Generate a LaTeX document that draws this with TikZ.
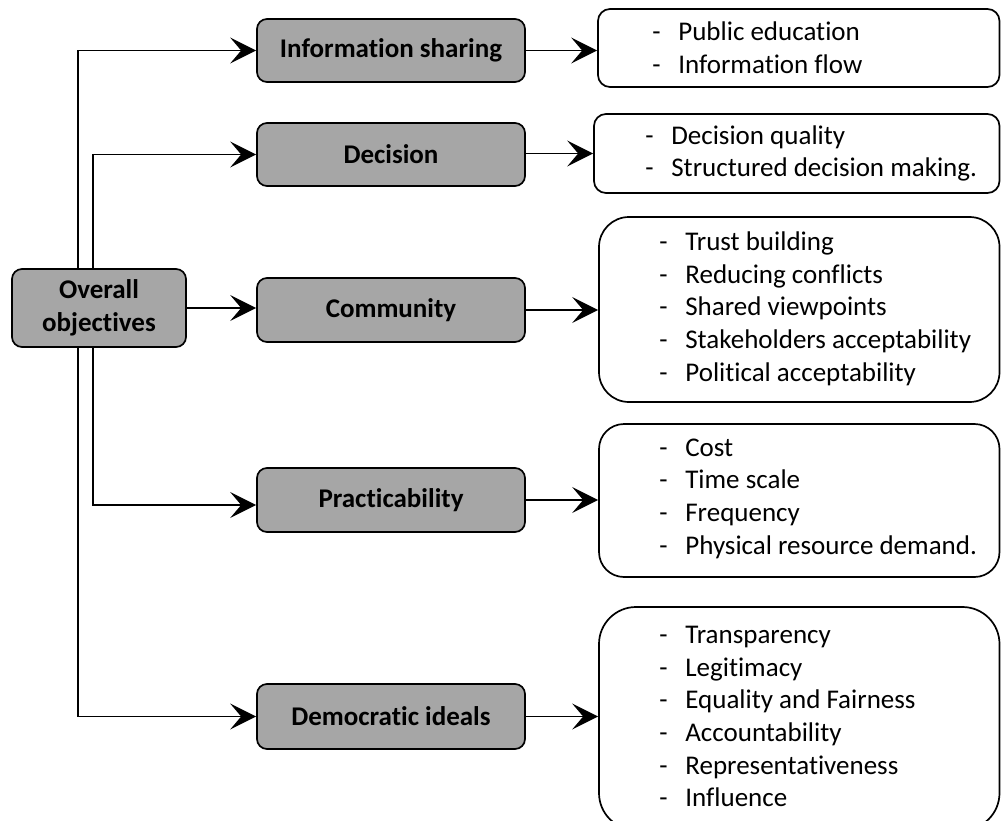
\documentclass[tikz,border=0pt]{standalone}
\usepackage{fontspec}
\setmainfont{Carlito}[Ligatures={NoCommon}]
\usetikzlibrary{arrows.meta}
\definecolor{boxgray}{RGB}{166,166,166}
\newcommand{\itm}[1]{\makebox[26pt][l]{-}#1}
\begin{document}
\begin{tikzpicture}[x=1pt,y=-1pt,
  graybox/.style={draw, line width=1.7pt, rounded corners=10pt, fill=boxgray, font=\fontsize{27}{32.5}\selectfont\bfseries, align=center, inner sep=0pt},
  listbox/.style={draw, line width=1.7pt, inner sep=0pt},
  listtext/.style={anchor=west, align=left, font=\fontsize{27}{32.7}\selectfont, inner sep=0pt},
  arr/.style={line width=1.8pt, -{Stealth[length=26pt,width=26pt,inset=11pt]}},
]
\useasboundingbox (0,0) rectangle (1001,820);

% left node
\node[graybox, minimum width=174pt, minimum height=78pt] (overall) at (99,308) {Overall\\objectives};

% middle gray nodes
\node[graybox, minimum width=268pt, minimum height=63pt] (info) at (391,50.5) {Information sharing};
\node[graybox, minimum width=268pt, minimum height=63pt] (decision) at (391,154.5) {Decision};
\node[graybox, minimum width=268pt, minimum height=64pt] (community) at (391,310) {Community};
\node[graybox, minimum width=268pt, minimum height=64pt] (practic) at (391,500) {Practicability};
\node[graybox, minimum width=268pt, minimum height=65pt] (democ) at (391,716.5) {Democratic ideals};

% right list boxes
\node[listbox, rounded corners=12pt, minimum width=401.5pt, minimum height=78pt] (infor) at (798.75,48) {};
\node[listbox, rounded corners=12pt, minimum width=405.5pt, minimum height=79pt] (decr) at (796.75,153.5) {};
\node[listbox, rounded corners=30pt, minimum width=400.5pt, minimum height=185pt] (commr) at (799.25,309.5) {};
\node[listbox, rounded corners=25pt, minimum width=400.5pt, minimum height=153pt] (practr) at (799.25,500.5) {};
\node[listbox, rounded corners=37pt, minimum width=400.5pt, minimum height=223pt] (democr) at (799.25,718.5) {};

% list texts
\node[listtext] (infot) at ([xshift=55pt]infor.west) {\itm{Public education}\\\itm{Information flow}};
\node[listtext] (dect) at ([xshift=52pt]decr.west) {\itm{Decision quality}\\\itm{Structured decision making.}};
\node[listtext] (commt) at ([xshift=61pt,yshift=1pt]commr.west) {\itm{Trust building}\\\itm{Reducing conflicts}\\\itm{Shared viewpoints}\\\itm{Stakeholders acceptability}\\\itm{Political acceptability}};
\node[listtext] (practt) at ([xshift=61pt,yshift=2pt]practr.west) {\itm{Cost}\\\itm{Time scale}\\\itm{Frequency}\\\itm{Physical resource demand.}};
\node[listtext] (democt) at ([xshift=61pt,yshift=2pt]democr.west) {\itm{Transparency}\\\itm{Legitimacy}\\\itm{Equality and Fairness}\\\itm{Accountability}\\\itm{Representativeness}\\\itm{Influence}};

% connectors from overall
\draw[arr] ([xshift=-21pt]overall.north) |- (info.west);
\draw[arr] ([xshift=-6pt]overall.north) |- (decision.west);
\draw[arr] (overall.east) -- (overall.east -| community.west);
\draw[arr] ([xshift=-6pt]overall.south) |- ([yshift=-5pt]practic.west);
\draw[arr] ([xshift=-21pt]overall.south) |- (democ.west);

% connectors to lists
\draw[arr] (info.east) -- (info.east -| infor.west);
\draw[arr] ([yshift=1pt]decision.east) -- ([yshift=1pt]decision.east -| decr.west);
\draw[arr] (community.east) -- (community.east -| commr.west);
\draw[arr] (practic.east) -- (practic.east -| practr.west);
\draw[arr] (democ.east) -- (democ.east -| democr.west);
\end{tikzpicture}
\end{document}
